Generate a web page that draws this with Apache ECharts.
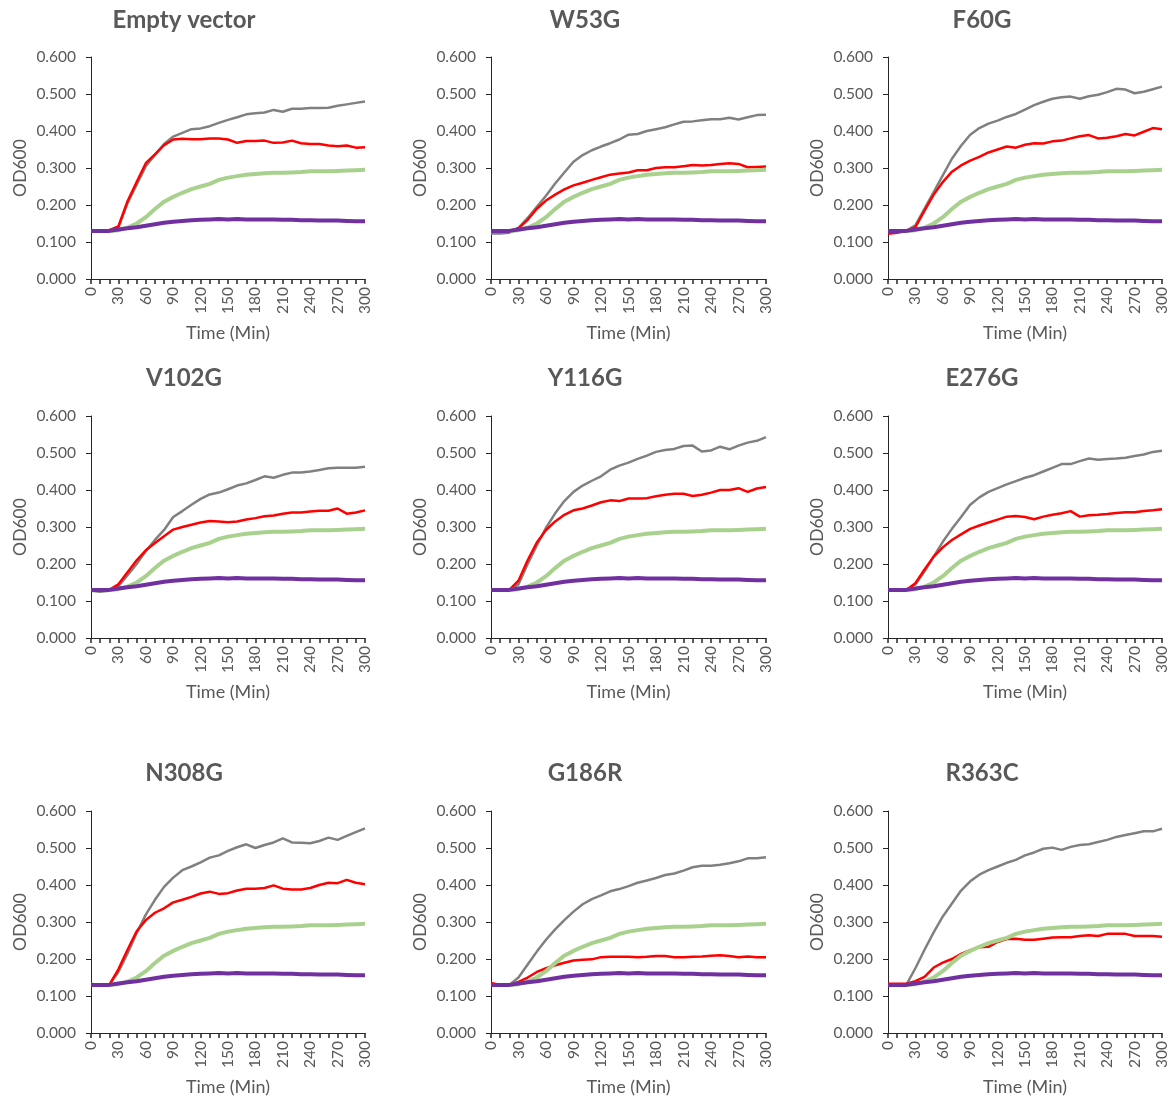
<!DOCTYPE html>
<html>
<head>
<meta charset="utf-8">
<script src="https://cdn.jsdelivr.net/npm/echarts@6/dist/echarts.min.js"></script>
<style>
html,body{margin:0;padding:0;background:#fff;}
#chart{width:1172px;height:1099px;}
</style>
</head>
<body>
<div id="chart"></div>
<script>
// Time points (minutes)
var timePoints = [0,10,20,30,40,50,60,70,80,90,100,110,120,130,140,150,160,170,180,190,200,210,220,230,240,250,260,270,280,290,300];
var yTickValues = [0, 0.1, 0.2, 0.3, 0.4, 0.5, 0.6];
var panelTitles = ["Empty vector","W53G","F60G","V102G","Y116G","E276G","N308G","G186R","R363C"];

// Control series (same in every panel)
var greenControl = [0.130,0.130,0.130,0.132,0.139,0.150,0.167,0.189,0.209,0.222,0.233,0.243,0.250,0.257,0.268,0.274,0.278,0.282,0.284,0.286,0.287,0.287,0.288,0.289,0.291,0.291,0.291,0.292,0.293,0.294,0.295];
var purpleControl = [0.130,0.130,0.130,0.134,0.137,0.140,0.144,0.148,0.152,0.155,0.157,0.159,0.160,0.161,0.162,0.161,0.162,0.161,0.161,0.161,0.161,0.160,0.160,0.159,0.159,0.158,0.158,0.158,0.157,0.156,0.156];

// Gray series per panel
var grayEmpty = [0.130,0.130,0.132,0.140,0.205,0.255,0.305,0.335,0.365,0.385,0.395,0.405,0.407,0.413,0.422,0.430,0.437,0.445,0.448,0.450,0.457,0.452,0.460,0.460,0.462,0.462,0.463,0.468,0.472,0.476,0.480];
var grayW53G = [0.123,0.123,0.125,0.138,0.165,0.195,0.225,0.258,0.288,0.317,0.335,0.348,0.358,0.367,0.377,0.390,0.392,0.400,0.405,0.410,0.418,0.425,0.426,0.429,0.432,0.432,0.436,0.431,0.437,0.443,0.444];
var grayF60G = [0.128,0.130,0.130,0.145,0.190,0.235,0.280,0.325,0.360,0.390,0.408,0.420,0.428,0.438,0.446,0.458,0.470,0.479,0.487,0.491,0.493,0.487,0.494,0.498,0.505,0.514,0.512,0.502,0.506,0.513,0.520];
var grayV102G = [0.128,0.125,0.128,0.140,0.170,0.200,0.235,0.265,0.292,0.327,0.343,0.360,0.376,0.388,0.393,0.402,0.412,0.418,0.427,0.437,0.433,0.441,0.447,0.447,0.450,0.454,0.459,0.460,0.460,0.460,0.463];
var grayY116G = [0.128,0.128,0.130,0.145,0.200,0.250,0.298,0.337,0.370,0.395,0.412,0.425,0.437,0.455,0.466,0.474,0.484,0.493,0.503,0.508,0.511,0.519,0.520,0.504,0.507,0.517,0.510,0.520,0.528,0.533,0.543];
var grayE276G = [0.128,0.128,0.130,0.145,0.180,0.220,0.260,0.295,0.327,0.360,0.380,0.395,0.405,0.415,0.424,0.433,0.440,0.450,0.460,0.470,0.470,0.478,0.485,0.482,0.484,0.485,0.487,0.492,0.496,0.503,0.506];
var grayN308G = [0.133,0.130,0.130,0.165,0.215,0.270,0.320,0.360,0.395,0.420,0.440,0.450,0.461,0.474,0.480,0.492,0.502,0.510,0.500,0.508,0.515,0.526,0.515,0.514,0.513,0.519,0.528,0.522,0.533,0.543,0.553];
var grayG186R = [0.128,0.128,0.130,0.150,0.185,0.220,0.252,0.280,0.305,0.328,0.348,0.362,0.372,0.383,0.389,0.397,0.406,0.412,0.419,0.427,0.431,0.439,0.448,0.452,0.452,0.455,0.459,0.464,0.472,0.472,0.475];
var grayR363C = [0.128,0.128,0.130,0.175,0.225,0.272,0.315,0.350,0.385,0.410,0.428,0.440,0.450,0.460,0.468,0.480,0.488,0.498,0.501,0.495,0.503,0.508,0.510,0.516,0.522,0.530,0.535,0.540,0.545,0.545,0.552];

// Red series per panel
var redEmpty = [0.130,0.130,0.132,0.142,0.210,0.262,0.313,0.337,0.362,0.377,0.379,0.378,0.378,0.380,0.380,0.377,0.368,0.373,0.373,0.374,0.368,0.369,0.374,0.367,0.365,0.365,0.361,0.359,0.361,0.355,0.356];
var redW53G = [0.130,0.130,0.130,0.137,0.160,0.190,0.212,0.228,0.242,0.253,0.260,0.268,0.275,0.282,0.285,0.288,0.294,0.294,0.300,0.302,0.302,0.305,0.308,0.307,0.308,0.311,0.313,0.311,0.302,0.303,0.304];
var redF60G = [0.122,0.125,0.130,0.140,0.185,0.228,0.262,0.290,0.307,0.320,0.330,0.342,0.350,0.358,0.355,0.363,0.367,0.366,0.372,0.374,0.380,0.386,0.389,0.380,0.382,0.386,0.392,0.388,0.398,0.408,0.405];
var redV102G = [0.130,0.130,0.130,0.145,0.178,0.210,0.237,0.257,0.275,0.293,0.300,0.306,0.312,0.316,0.315,0.313,0.315,0.320,0.324,0.329,0.331,0.336,0.339,0.339,0.342,0.344,0.344,0.350,0.336,0.339,0.345];
var redY116G = [0.128,0.128,0.130,0.155,0.210,0.258,0.292,0.315,0.333,0.345,0.350,0.358,0.367,0.372,0.370,0.377,0.377,0.378,0.383,0.387,0.390,0.390,0.384,0.387,0.393,0.400,0.400,0.405,0.395,0.404,0.408];
var redE276G = [0.128,0.128,0.130,0.148,0.185,0.220,0.245,0.265,0.280,0.295,0.304,0.312,0.320,0.328,0.330,0.327,0.321,0.328,0.333,0.337,0.343,0.328,0.332,0.333,0.335,0.338,0.340,0.340,0.343,0.345,0.348];
var redN308G = [0.130,0.130,0.130,0.172,0.225,0.275,0.305,0.325,0.337,0.353,0.360,0.368,0.377,0.382,0.376,0.378,0.385,0.390,0.390,0.392,0.399,0.390,0.388,0.388,0.392,0.400,0.406,0.405,0.414,0.406,0.402];
var redG186R = [0.135,0.130,0.130,0.138,0.150,0.165,0.175,0.183,0.190,0.196,0.198,0.199,0.205,0.206,0.206,0.206,0.205,0.206,0.208,0.208,0.205,0.205,0.206,0.207,0.209,0.210,0.208,0.205,0.207,0.205,0.205];
var redR363C = [0.133,0.133,0.133,0.140,0.152,0.177,0.190,0.200,0.214,0.224,0.232,0.233,0.246,0.254,0.255,0.252,0.252,0.255,0.258,0.259,0.259,0.262,0.264,0.262,0.268,0.268,0.268,0.262,0.262,0.262,0.260];

var grayData = [grayEmpty, grayW53G, grayF60G, grayV102G, grayY116G, grayE276G, grayN308G, grayG186R, grayR363C];
var redData = [redEmpty, redW53G, redF60G, redV102G, redY116G, redE276G, redN308G, redG186R, redR363C];

var chart = echarts.init(document.getElementById('chart'));
var FONT = 'Lato';
var TXT = '#595959';
var AX = '#262626';

var colLeft = [91, 491, 888];
var colWidth = [274, 275, 274];
var rowTop = [57, 416, 811];
var rowHeight = 222;
var titleCenterX = [184, 585, 982];
var titleCenterY = [20, 378, 773];

var grids = [], xAxes = [], yAxes = [], series = [], titles = [];
for (var i = 0; i < 9; i++) {
  var r = Math.floor(i / 3), c = i % 3;
  grids.push({left: colLeft[c], top: rowTop[r], width: colWidth[c], height: rowHeight, containLabel: false});
  titles.push({
    text: panelTitles[i], left: titleCenterX[c], top: titleCenterY[r] - 12, textAlign: 'center', padding: 0,
    textStyle: {fontFamily: FONT, fontWeight: 'bold', fontSize: 24, color: TXT}
  });
  xAxes.push({
    type: 'category', gridIndex: i, data: timePoints.map(String), boundaryGap: false,
    name: 'Time (Min)', nameLocation: 'middle', nameGap: 45,
    nameTextStyle: {fontFamily: FONT, fontSize: 18, color: TXT},
    axisLine: {show: true, lineStyle: {color: AX, width: 1}},
    axisTick: {show: true, interval: 0, length: 5, lineStyle: {color: AX, width: 1.5}},
    axisLabel: {interval: 2, rotate: 90, fontFamily: FONT, fontSize: 15.5, color: TXT, margin: 8},
    splitLine: {show: false}
  });
  yAxes.push({
    type: 'value', gridIndex: i, min: 0, max: 0.6, interval: 0.1,
    name: 'OD600', nameLocation: 'middle', nameGap: 62, nameRotate: 90,
    nameTextStyle: {fontFamily: FONT, fontSize: 17.5, color: TXT},
    axisLine: {show: true, lineStyle: {color: AX, width: 1}},
    axisTick: {show: true, length: 5, lineStyle: {color: AX, width: 1}},
    axisLabel: {fontFamily: FONT, fontSize: 15.5, color: TXT, margin: 15,
      formatter: function (v) { return v.toFixed(3); }},
    splitLine: {show: false}
  });
  var common = {type: 'line', xAxisIndex: i, yAxisIndex: i, symbol: 'none', smooth: false, animation: false};
  series.push(Object.assign({}, common, {name: 'gray', data: grayData[i], lineStyle: {color: '#808080', width: 2.5}, z: 2}));
  series.push(Object.assign({}, common, {name: 'red', data: redData[i], lineStyle: {color: '#FF0000', width: 2.5}, z: 3}));
  series.push(Object.assign({}, common, {name: 'green', data: greenControl, lineStyle: {color: '#A9D18E', width: 4}, z: 4}));
  series.push(Object.assign({}, common, {name: 'purple', data: purpleControl, lineStyle: {color: '#7030A0', width: 4}, z: 5}));
}

chart.setOption({
  backgroundColor: '#ffffff',
  animation: false,
  title: titles,
  grid: grids,
  xAxis: xAxes,
  yAxis: yAxes,
  series: series
});
</script>
</body>
</html>
